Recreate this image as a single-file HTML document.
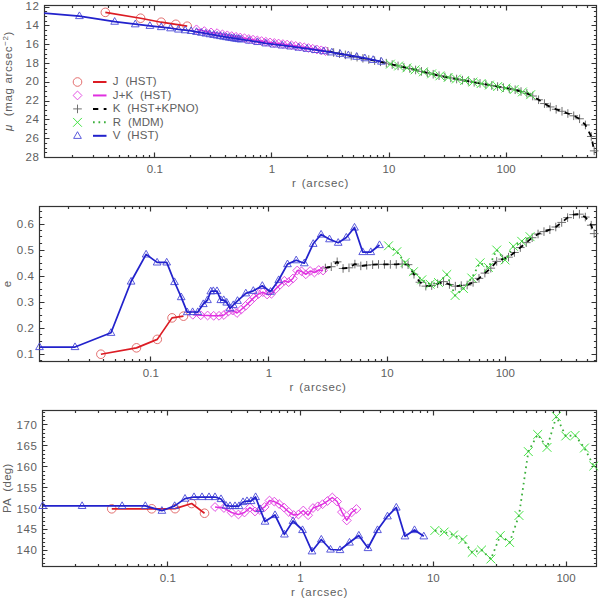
<!DOCTYPE html>
<html><head><meta charset="utf-8"><style>
html,body{margin:0;padding:0;background:#fff;width:600px;height:599px;overflow:hidden}
svg{display:block}
.t{white-space:pre;font-family:"Liberation Sans",sans-serif;font-size:11.5px;fill:#606060}
</style></head><body>
<svg width="600" height="599" viewBox="0 0 600 599">
<rect width="600" height="599" fill="#fff"/>
<rect x="44.5" y="5.5" width="552.00" height="152.00" fill="none" stroke="#333" stroke-width="1.2"/>
<path d="M72.50 157.50v-2.6M72.50 5.50v2.6M93.50 157.50v-2.6M93.50 5.50v2.6M108.50 157.50v-2.6M108.50 5.50v2.6M119.50 157.50v-2.6M119.50 5.50v2.6M128.50 157.50v-2.6M128.50 5.50v2.6M136.50 157.50v-2.6M136.50 5.50v2.6M143.50 157.50v-2.6M143.50 5.50v2.6M149.50 157.50v-2.6M149.50 5.50v2.6M154.50 157.50v-5M154.50 5.50v5M190.50 157.50v-2.6M190.50 5.50v2.6M210.50 157.50v-2.6M210.50 5.50v2.6M225.50 157.50v-2.6M225.50 5.50v2.6M236.50 157.50v-2.6M236.50 5.50v2.6M245.50 157.50v-2.6M245.50 5.50v2.6M253.50 157.50v-2.6M253.50 5.50v2.6M260.50 157.50v-2.6M260.50 5.50v2.6M266.50 157.50v-2.6M266.50 5.50v2.6M271.50 157.50v-5M271.50 5.50v5M307.50 157.50v-2.6M307.50 5.50v2.6M327.50 157.50v-2.6M327.50 5.50v2.6M342.50 157.50v-2.6M342.50 5.50v2.6M353.50 157.50v-2.6M353.50 5.50v2.6M363.50 157.50v-2.6M363.50 5.50v2.6M370.50 157.50v-2.6M370.50 5.50v2.6M377.50 157.50v-2.6M377.50 5.50v2.6M383.50 157.50v-2.6M383.50 5.50v2.6M389.50 157.50v-5M389.50 5.50v5M424.50 157.50v-2.6M424.50 5.50v2.6M444.50 157.50v-2.6M444.50 5.50v2.6M459.50 157.50v-2.6M459.50 5.50v2.6M470.50 157.50v-2.6M470.50 5.50v2.6M480.50 157.50v-2.6M480.50 5.50v2.6M487.50 157.50v-2.6M487.50 5.50v2.6M494.50 157.50v-2.6M494.50 5.50v2.6M500.50 157.50v-2.6M500.50 5.50v2.6M506.50 157.50v-5M506.50 5.50v5M541.50 157.50v-2.6M541.50 5.50v2.6M562.50 157.50v-2.6M562.50 5.50v2.6M576.50 157.50v-2.6M576.50 5.50v2.6M587.50 157.50v-2.6M587.50 5.50v2.6M44.50 7.50h5M596.50 7.50h-5M44.50 25.50h5M596.50 25.50h-5M44.50 44.50h5M596.50 44.50h-5M44.50 63.50h5M596.50 63.50h-5M44.50 82.50h5M596.50 82.50h-5M44.50 101.50h5M596.50 101.50h-5M44.50 119.50h5M596.50 119.50h-5M44.50 138.50h5M596.50 138.50h-5M44.50 157.50h5M596.50 157.50h-5M44.50 7.50h2.6M596.50 7.50h-2.6M44.50 11.50h2.6M596.50 11.50h-2.6M44.50 16.50h2.6M596.50 16.50h-2.6M44.50 21.50h2.6M596.50 21.50h-2.6M44.50 25.50h2.6M596.50 25.50h-2.6M44.50 30.50h2.6M596.50 30.50h-2.6M44.50 35.50h2.6M596.50 35.50h-2.6M44.50 39.50h2.6M596.50 39.50h-2.6M44.50 44.50h2.6M596.50 44.50h-2.6M44.50 49.50h2.6M596.50 49.50h-2.6M44.50 54.50h2.6M596.50 54.50h-2.6M44.50 58.50h2.6M596.50 58.50h-2.6M44.50 63.50h2.6M596.50 63.50h-2.6M44.50 68.50h2.6M596.50 68.50h-2.6M44.50 72.50h2.6M596.50 72.50h-2.6M44.50 77.50h2.6M596.50 77.50h-2.6M44.50 82.50h2.6M596.50 82.50h-2.6M44.50 86.50h2.6M596.50 86.50h-2.6M44.50 91.50h2.6M596.50 91.50h-2.6M44.50 96.50h2.6M596.50 96.50h-2.6M44.50 101.50h2.6M596.50 101.50h-2.6M44.50 105.50h2.6M596.50 105.50h-2.6M44.50 110.50h2.6M596.50 110.50h-2.6M44.50 115.50h2.6M596.50 115.50h-2.6M44.50 119.50h2.6M596.50 119.50h-2.6M44.50 124.50h2.6M596.50 124.50h-2.6M44.50 129.50h2.6M596.50 129.50h-2.6M44.50 133.50h2.6M596.50 133.50h-2.6M44.50 138.50h2.6M596.50 138.50h-2.6M44.50 143.50h2.6M596.50 143.50h-2.6M44.50 148.50h2.6M596.50 148.50h-2.6M44.50 152.50h2.6M596.50 152.50h-2.6M44.50 157.50h2.6M596.50 157.50h-2.6" stroke="#333" stroke-width="1.2" fill="none"/>
<text x="39.60" y="10.30" text-anchor="end" class="t" letter-spacing="0.6">12</text>
<text x="39.60" y="29.09" text-anchor="end" class="t" letter-spacing="0.6">14</text>
<text x="39.60" y="47.88" text-anchor="end" class="t" letter-spacing="0.6">16</text>
<text x="39.60" y="66.66" text-anchor="end" class="t" letter-spacing="0.6">18</text>
<text x="39.60" y="85.45" text-anchor="end" class="t" letter-spacing="0.6">20</text>
<text x="39.60" y="104.24" text-anchor="end" class="t" letter-spacing="0.6">22</text>
<text x="39.60" y="123.03" text-anchor="end" class="t" letter-spacing="0.6">24</text>
<text x="39.60" y="141.82" text-anchor="end" class="t" letter-spacing="0.6">26</text>
<text x="39.60" y="160.60" text-anchor="end" class="t" letter-spacing="0.6">28</text>
<text x="154.81" y="172.50" text-anchor="middle" class="t">0.1</text>
<text x="271.92" y="172.50" text-anchor="middle" class="t">1</text>
<text x="389.02" y="172.50" text-anchor="middle" class="t">10</text>
<text x="506.13" y="172.50" text-anchor="middle" class="t">100</text>
<text x="320.50" y="187.30" text-anchor="middle" class="t" letter-spacing="0.7">r <tspan dx="1.4">(arcsec)</tspan></text>
<rect x="39.5" y="206.5" width="557.00" height="155.00" fill="none" stroke="#333" stroke-width="1.2"/>
<path d="M68.50 361.50v-2.6M68.50 206.50v2.6M89.50 361.50v-2.6M89.50 206.50v2.6M103.50 361.50v-2.6M103.50 206.50v2.6M115.50 361.50v-2.6M115.50 206.50v2.6M124.50 361.50v-2.6M124.50 206.50v2.6M132.50 361.50v-2.6M132.50 206.50v2.6M139.50 361.50v-2.6M139.50 206.50v2.6M145.50 361.50v-2.6M145.50 206.50v2.6M150.50 361.50v-5M150.50 206.50v5M186.50 361.50v-2.6M186.50 206.50v2.6M207.50 361.50v-2.6M207.50 206.50v2.6M221.50 361.50v-2.6M221.50 206.50v2.6M233.50 361.50v-2.6M233.50 206.50v2.6M242.50 361.50v-2.6M242.50 206.50v2.6M250.50 361.50v-2.6M250.50 206.50v2.6M257.50 361.50v-2.6M257.50 206.50v2.6M263.50 361.50v-2.6M263.50 206.50v2.6M268.50 361.50v-5M268.50 206.50v5M304.50 361.50v-2.6M304.50 206.50v2.6M325.50 361.50v-2.6M325.50 206.50v2.6M340.50 361.50v-2.6M340.50 206.50v2.6M351.50 361.50v-2.6M351.50 206.50v2.6M360.50 361.50v-2.6M360.50 206.50v2.6M368.50 361.50v-2.6M368.50 206.50v2.6M375.50 361.50v-2.6M375.50 206.50v2.6M381.50 361.50v-2.6M381.50 206.50v2.6M387.50 361.50v-5M387.50 206.50v5M422.50 361.50v-2.6M422.50 206.50v2.6M443.50 361.50v-2.6M443.50 206.50v2.6M458.50 361.50v-2.6M458.50 206.50v2.6M469.50 361.50v-2.6M469.50 206.50v2.6M479.50 361.50v-2.6M479.50 206.50v2.6M487.50 361.50v-2.6M487.50 206.50v2.6M493.50 361.50v-2.6M493.50 206.50v2.6M499.50 361.50v-2.6M499.50 206.50v2.6M505.50 361.50v-5M505.50 206.50v5M540.50 361.50v-2.6M540.50 206.50v2.6M561.50 361.50v-2.6M561.50 206.50v2.6M576.50 361.50v-2.6M576.50 206.50v2.6M587.50 361.50v-2.6M587.50 206.50v2.6M39.50 354.50h5M596.50 354.50h-5M39.50 328.50h5M596.50 328.50h-5M39.50 302.50h5M596.50 302.50h-5M39.50 276.50h5M596.50 276.50h-5M39.50 250.50h5M596.50 250.50h-5M39.50 224.50h5M596.50 224.50h-5M39.50 360.50h2.6M596.50 360.50h-2.6M39.50 354.50h2.6M596.50 354.50h-2.6M39.50 347.50h2.6M596.50 347.50h-2.6M39.50 341.50h2.6M596.50 341.50h-2.6M39.50 334.50h2.6M596.50 334.50h-2.6M39.50 328.50h2.6M596.50 328.50h-2.6M39.50 321.50h2.6M596.50 321.50h-2.6M39.50 315.50h2.6M596.50 315.50h-2.6M39.50 308.50h2.6M596.50 308.50h-2.6M39.50 302.50h2.6M596.50 302.50h-2.6M39.50 295.50h2.6M596.50 295.50h-2.6M39.50 289.50h2.6M596.50 289.50h-2.6M39.50 282.50h2.6M596.50 282.50h-2.6M39.50 276.50h2.6M596.50 276.50h-2.6M39.50 269.50h2.6M596.50 269.50h-2.6M39.50 263.50h2.6M596.50 263.50h-2.6M39.50 256.50h2.6M596.50 256.50h-2.6M39.50 250.50h2.6M596.50 250.50h-2.6M39.50 243.50h2.6M596.50 243.50h-2.6M39.50 236.50h2.6M596.50 236.50h-2.6M39.50 230.50h2.6M596.50 230.50h-2.6M39.50 224.50h2.6M596.50 224.50h-2.6M39.50 217.50h2.6M596.50 217.50h-2.6M39.50 211.50h2.6M596.50 211.50h-2.6" stroke="#333" stroke-width="1.2" fill="none"/>
<text x="34.60" y="358.20" text-anchor="end" class="t" letter-spacing="0.6">0.1</text>
<text x="34.60" y="332.20" text-anchor="end" class="t" letter-spacing="0.6">0.2</text>
<text x="34.60" y="306.20" text-anchor="end" class="t" letter-spacing="0.6">0.3</text>
<text x="34.60" y="280.20" text-anchor="end" class="t" letter-spacing="0.6">0.4</text>
<text x="34.60" y="254.20" text-anchor="end" class="t" letter-spacing="0.6">0.5</text>
<text x="34.60" y="228.20" text-anchor="end" class="t" letter-spacing="0.6">0.6</text>
<text x="150.81" y="376.50" text-anchor="middle" class="t">0.1</text>
<text x="268.98" y="376.50" text-anchor="middle" class="t">1</text>
<text x="387.15" y="376.50" text-anchor="middle" class="t">10</text>
<text x="505.31" y="376.50" text-anchor="middle" class="t">100</text>
<text x="318.00" y="391.30" text-anchor="middle" class="t" letter-spacing="0.7">r <tspan dx="1.4">(arcsec)</tspan></text>
<rect x="42.5" y="410.5" width="554.00" height="156.00" fill="none" stroke="#333" stroke-width="1.2"/>
<path d="M75.50 566.50v-2.6M75.50 410.50v2.6M98.50 566.50v-2.6M98.50 410.50v2.6M115.50 566.50v-2.6M115.50 410.50v2.6M127.50 566.50v-2.6M127.50 410.50v2.6M138.50 566.50v-2.6M138.50 410.50v2.6M147.50 566.50v-2.6M147.50 410.50v2.6M154.50 566.50v-2.6M154.50 410.50v2.6M161.50 566.50v-2.6M161.50 410.50v2.6M167.50 566.50v-5M167.50 410.50v5M207.50 566.50v-2.6M207.50 410.50v2.6M231.50 566.50v-2.6M231.50 410.50v2.6M247.50 566.50v-2.6M247.50 410.50v2.6M260.50 566.50v-2.6M260.50 410.50v2.6M271.50 566.50v-2.6M271.50 410.50v2.6M279.50 566.50v-2.6M279.50 410.50v2.6M287.50 566.50v-2.6M287.50 410.50v2.6M294.50 566.50v-2.6M294.50 410.50v2.6M300.50 566.50v-5M300.50 410.50v5M340.50 566.50v-2.6M340.50 410.50v2.6M363.50 566.50v-2.6M363.50 410.50v2.6M380.50 566.50v-2.6M380.50 410.50v2.6M393.50 566.50v-2.6M393.50 410.50v2.6M403.50 566.50v-2.6M403.50 410.50v2.6M412.50 566.50v-2.6M412.50 410.50v2.6M420.50 566.50v-2.6M420.50 410.50v2.6M427.50 566.50v-2.6M427.50 410.50v2.6M433.50 566.50v-5M433.50 410.50v5M473.50 566.50v-2.6M473.50 410.50v2.6M496.50 566.50v-2.6M496.50 410.50v2.6M513.50 566.50v-2.6M513.50 410.50v2.6M526.50 566.50v-2.6M526.50 410.50v2.6M536.50 566.50v-2.6M536.50 410.50v2.6M545.50 566.50v-2.6M545.50 410.50v2.6M553.50 566.50v-2.6M553.50 410.50v2.6M559.50 566.50v-2.6M559.50 410.50v2.6M566.50 566.50v-5M566.50 410.50v5M42.50 550.50h5M596.50 550.50h-5M42.50 529.50h5M596.50 529.50h-5M42.50 508.50h5M596.50 508.50h-5M42.50 487.50h5M596.50 487.50h-5M42.50 466.50h5M596.50 466.50h-5M42.50 445.50h5M596.50 445.50h-5M42.50 424.50h5M596.50 424.50h-5M42.50 563.50h2.6M596.50 563.50h-2.6M42.50 558.50h2.6M596.50 558.50h-2.6M42.50 554.50h2.6M596.50 554.50h-2.6M42.50 550.50h2.6M596.50 550.50h-2.6M42.50 546.50h2.6M596.50 546.50h-2.6M42.50 542.50h2.6M596.50 542.50h-2.6M42.50 538.50h2.6M596.50 538.50h-2.6M42.50 533.50h2.6M596.50 533.50h-2.6M42.50 529.50h2.6M596.50 529.50h-2.6M42.50 525.50h2.6M596.50 525.50h-2.6M42.50 521.50h2.6M596.50 521.50h-2.6M42.50 517.50h2.6M596.50 517.50h-2.6M42.50 512.50h2.6M596.50 512.50h-2.6M42.50 508.50h2.6M596.50 508.50h-2.6M42.50 504.50h2.6M596.50 504.50h-2.6M42.50 500.50h2.6M596.50 500.50h-2.6M42.50 496.50h2.6M596.50 496.50h-2.6M42.50 491.50h2.6M596.50 491.50h-2.6M42.50 487.50h2.6M596.50 487.50h-2.6M42.50 483.50h2.6M596.50 483.50h-2.6M42.50 479.50h2.6M596.50 479.50h-2.6M42.50 475.50h2.6M596.50 475.50h-2.6M42.50 471.50h2.6M596.50 471.50h-2.6M42.50 466.50h2.6M596.50 466.50h-2.6M42.50 462.50h2.6M596.50 462.50h-2.6M42.50 458.50h2.6M596.50 458.50h-2.6M42.50 454.50h2.6M596.50 454.50h-2.6M42.50 450.50h2.6M596.50 450.50h-2.6M42.50 445.50h2.6M596.50 445.50h-2.6M42.50 441.50h2.6M596.50 441.50h-2.6M42.50 437.50h2.6M596.50 437.50h-2.6M42.50 433.50h2.6M596.50 433.50h-2.6M42.50 429.50h2.6M596.50 429.50h-2.6M42.50 424.50h2.6M596.50 424.50h-2.6M42.50 420.50h2.6M596.50 420.50h-2.6M42.50 416.50h2.6M596.50 416.50h-2.6M42.50 412.50h2.6M596.50 412.50h-2.6" stroke="#333" stroke-width="1.2" fill="none"/>
<text x="37.60" y="554.40" text-anchor="end" class="t" letter-spacing="0.6">140</text>
<text x="37.60" y="533.47" text-anchor="end" class="t" letter-spacing="0.6">145</text>
<text x="37.60" y="512.53" text-anchor="end" class="t" letter-spacing="0.6">150</text>
<text x="37.60" y="491.60" text-anchor="end" class="t" letter-spacing="0.6">155</text>
<text x="37.60" y="470.66" text-anchor="end" class="t" letter-spacing="0.6">160</text>
<text x="37.60" y="449.73" text-anchor="end" class="t" letter-spacing="0.6">165</text>
<text x="37.60" y="428.79" text-anchor="end" class="t" letter-spacing="0.6">170</text>
<text x="167.83" y="581.50" text-anchor="middle" class="t">0.1</text>
<text x="300.55" y="581.50" text-anchor="middle" class="t">1</text>
<text x="433.28" y="581.50" text-anchor="middle" class="t">10</text>
<text x="566.01" y="581.50" text-anchor="middle" class="t">100</text>
<text x="319.50" y="596.30" text-anchor="middle" class="t" letter-spacing="0.7">r <tspan dx="1.4">(arcsec)</tspan></text>
<text transform="translate(12.2,80.9) rotate(-90)" text-anchor="middle" class="t" letter-spacing="0.65"><tspan font-style="italic">μ</tspan>  (mag arcsec<tspan dy="-4" font-size="8">−2</tspan><tspan dy="4">)</tspan></text>
<text transform="translate(10.8,284.1) rotate(-90)" text-anchor="middle" class="t">e</text>
<text transform="translate(11.2,488.2) rotate(-90)" text-anchor="middle" class="t" letter-spacing="0.3">PA  (deg)</text>
<g><path d="M323.49 51.36h8.6M327.79 47.06v8.6" stroke="#686868" stroke-width="0.95"/><path d="M329.35 52.53h8.6M333.65 48.23v8.6" stroke="#686868" stroke-width="0.95"/><path d="M335.20 53.70h8.6M339.50 49.40v8.6" stroke="#686868" stroke-width="0.95"/><path d="M341.06 54.87h8.6M345.36 50.57v8.6" stroke="#686868" stroke-width="0.95"/><path d="M346.91 56.04h8.6M351.21 51.74v8.6" stroke="#686868" stroke-width="0.95"/><path d="M352.77 57.19h8.6M357.07 52.89v8.6" stroke="#686868" stroke-width="0.95"/><path d="M358.62 58.34h8.6M362.92 54.04v8.6" stroke="#686868" stroke-width="0.95"/><path d="M364.48 59.48h8.6M368.78 55.18v8.6" stroke="#686868" stroke-width="0.95"/><path d="M370.33 60.63h8.6M374.63 56.33v8.6" stroke="#686868" stroke-width="0.95"/><path d="M376.19 61.78h8.6M380.49 57.48v8.6" stroke="#686868" stroke-width="0.95"/><path d="M382.04 63.16h8.6M386.34 58.86v8.6" stroke="#686868" stroke-width="0.95"/><path d="M387.90 64.57h8.6M392.20 60.27v8.6" stroke="#686868" stroke-width="0.95"/><path d="M393.75 65.90h8.6M398.05 61.60v8.6" stroke="#686868" stroke-width="0.95"/><path d="M399.61 67.22h8.6M403.91 62.92v8.6" stroke="#686868" stroke-width="0.95"/><path d="M405.47 68.55h8.6M409.77 64.25v8.6" stroke="#686868" stroke-width="0.95"/><path d="M411.32 69.97h8.6M415.62 65.67v8.6" stroke="#686868" stroke-width="0.95"/><path d="M417.18 71.39h8.6M421.48 67.09v8.6" stroke="#686868" stroke-width="0.95"/><path d="M423.03 72.82h8.6M427.33 68.52v8.6" stroke="#686868" stroke-width="0.95"/><path d="M428.89 74.24h8.6M433.19 69.94v8.6" stroke="#686868" stroke-width="0.95"/><path d="M434.74 75.67h8.6M439.04 71.37v8.6" stroke="#686868" stroke-width="0.95"/><path d="M440.60 76.82h8.6M444.90 72.52v8.6" stroke="#686868" stroke-width="0.95"/><path d="M446.45 77.92h8.6M450.75 73.62v8.6" stroke="#686868" stroke-width="0.95"/><path d="M452.31 79.02h8.6M456.61 74.72v8.6" stroke="#686868" stroke-width="0.95"/><path d="M458.16 80.12h8.6M462.46 75.82v8.6" stroke="#686868" stroke-width="0.95"/><path d="M464.02 81.21h8.6M468.32 76.91v8.6" stroke="#686868" stroke-width="0.95"/><path d="M469.87 82.29h8.6M474.17 77.99v8.6" stroke="#686868" stroke-width="0.95"/><path d="M475.73 83.37h8.6M480.03 79.07v8.6" stroke="#686868" stroke-width="0.95"/><path d="M481.58 84.44h8.6M485.88 80.14v8.6" stroke="#686868" stroke-width="0.95"/><path d="M487.44 85.51h8.6M491.74 81.21v8.6" stroke="#686868" stroke-width="0.95"/><path d="M493.29 86.57h8.6M497.59 82.27v8.6" stroke="#686868" stroke-width="0.95"/><path d="M499.15 87.62h8.6M503.45 83.32v8.6" stroke="#686868" stroke-width="0.95"/><path d="M505.00 88.67h8.6M509.30 84.37v8.6" stroke="#686868" stroke-width="0.95"/><path d="M510.86 89.75h8.6M515.16 85.45v8.6" stroke="#686868" stroke-width="0.95"/><path d="M516.72 91.54h8.6M521.02 87.24v8.6" stroke="#686868" stroke-width="0.95"/><path d="M522.57 93.34h8.6M526.87 89.04v8.6" stroke="#686868" stroke-width="0.95"/><path d="M528.43 96.03h8.6M532.73 91.73v8.6" stroke="#686868" stroke-width="0.95"/><path d="M534.28 99.75h8.6M538.58 95.45v8.6" stroke="#686868" stroke-width="0.95"/><path d="M540.14 103.56h8.6M544.44 99.26v8.6" stroke="#686868" stroke-width="0.95"/><path d="M545.99 106.94h8.6M550.29 102.64v8.6" stroke="#686868" stroke-width="0.95"/><path d="M551.85 109.28h8.6M556.15 104.98v8.6" stroke="#686868" stroke-width="0.95"/><path d="M557.70 111.27h8.6M562.00 106.97v8.6" stroke="#686868" stroke-width="0.95"/><path d="M563.56 113.51h8.6M567.86 109.21v8.6" stroke="#686868" stroke-width="0.95"/><path d="M569.41 115.79h8.6M573.71 111.49v8.6" stroke="#686868" stroke-width="0.95"/><path d="M575.27 118.77h8.6M579.57 114.47v8.6" stroke="#686868" stroke-width="0.95"/><path d="M581.12 124.95h8.6M585.42 120.65v8.6" stroke="#686868" stroke-width="0.95"/><path d="M586.98 136.47h8.6M591.28 132.17v8.6" stroke="#686868" stroke-width="0.95"/><path d="M589.89 150.86h8.6M594.19 146.56v8.6" stroke="#686868" stroke-width="0.95"/></g>
<path d="M327.79 51.36L333.65 52.53L339.50 53.70L345.36 54.87L351.21 56.04L357.07 57.19L362.92 58.34L368.78 59.48L374.63 60.63L380.49 61.78L386.34 63.16L392.20 64.57L398.05 65.90L403.91 67.22L409.77 68.55L415.62 69.97L421.48 71.39L427.33 72.82L433.19 74.24L439.04 75.67L444.90 76.82L450.75 77.92L456.61 79.02L462.46 80.12L468.32 81.21L474.17 82.29L480.03 83.37L485.88 84.44L491.74 85.51L497.59 86.57L503.45 87.62L509.30 88.67L515.16 89.75L521.02 91.54L526.87 93.34L532.73 96.03L538.58 99.75L544.44 103.56L550.29 106.94L556.15 109.28L562.00 111.27L567.86 113.51L573.71 115.79L579.57 118.77L585.42 124.95L591.28 136.47L594.19 150.86" fill="none" stroke="#000" stroke-width="1.8" stroke-linejoin="round" stroke-dasharray="5.3 5.4"/>
<g><path d="M385.97 59.76l8.8 8.8M385.97 68.56l8.8 -8.8" stroke="#44e444" stroke-width="1.0"/><path d="M394.22 61.62l8.8 8.8M394.22 70.42l8.8 -8.8" stroke="#44e444" stroke-width="1.0"/><path d="M402.47 63.49l8.8 8.8M402.47 72.29l8.8 -8.8" stroke="#44e444" stroke-width="1.0"/><path d="M410.72 65.45l8.8 8.8M410.72 74.25l8.8 -8.8" stroke="#44e444" stroke-width="1.0"/><path d="M418.98 67.45l8.8 8.8M418.98 76.25l8.8 -8.8" stroke="#44e444" stroke-width="1.0"/><path d="M427.23 69.46l8.8 8.8M427.23 78.26l8.8 -8.8" stroke="#44e444" stroke-width="1.0"/><path d="M435.48 71.47l8.8 8.8M435.48 80.27l8.8 -8.8" stroke="#44e444" stroke-width="1.0"/><path d="M443.73 73.03l8.8 8.8M443.73 81.83l8.8 -8.8" stroke="#44e444" stroke-width="1.0"/><path d="M451.98 74.58l8.8 8.8M451.98 83.38l8.8 -8.8" stroke="#44e444" stroke-width="1.0"/><path d="M460.23 76.13l8.8 8.8M460.23 84.93l8.8 -8.8" stroke="#44e444" stroke-width="1.0"/><path d="M468.48 77.65l8.8 8.8M468.48 86.45l8.8 -8.8" stroke="#44e444" stroke-width="1.0"/><path d="M476.73 79.17l8.8 8.8M476.73 87.97l8.8 -8.8" stroke="#44e444" stroke-width="1.0"/><path d="M484.99 80.69l8.8 8.8M484.99 89.49l8.8 -8.8" stroke="#44e444" stroke-width="1.0"/><path d="M493.24 82.17l8.8 8.8M493.24 90.97l8.8 -8.8" stroke="#44e444" stroke-width="1.0"/><path d="M501.49 83.66l8.8 8.8M501.49 92.46l8.8 -8.8" stroke="#44e444" stroke-width="1.0"/><path d="M509.74 85.15l8.8 8.8M509.74 93.95l8.8 -8.8" stroke="#44e444" stroke-width="1.0"/><path d="M517.99 87.57l8.8 8.8M517.99 96.37l8.8 -8.8" stroke="#44e444" stroke-width="1.0"/><path d="M526.24 90.31l8.8 8.8M526.24 99.11l8.8 -8.8" stroke="#44e444" stroke-width="1.0"/></g>
<path d="M390.37 64.16L398.62 66.02L406.87 67.89L415.12 69.85L423.38 71.85L431.63 73.86L439.88 75.87L448.13 77.43L456.38 78.98L464.63 80.53L472.88 82.05L481.13 83.57L489.39 85.09L497.64 86.57L505.89 88.06L514.14 89.55L522.39 91.97L530.64 94.71" fill="none" stroke="#3cb03c" stroke-width="1.8" stroke-linejoin="round" stroke-dasharray="1.7 3.8"/>
<g><path d="M192.06 29.35L196.46 24.95L200.86 29.35L196.46 33.75Z" fill="none" stroke="#e040e0" stroke-width="0.9"/><path d="M199.90 31.10L204.30 26.70L208.70 31.10L204.30 35.50Z" fill="none" stroke="#e040e0" stroke-width="0.9"/><path d="M206.69 32.41L211.09 28.01L215.49 32.41L211.09 36.81Z" fill="none" stroke="#e040e0" stroke-width="0.9"/><path d="M212.68 33.12L217.08 28.72L221.48 33.12L217.08 37.52Z" fill="none" stroke="#e040e0" stroke-width="0.9"/><path d="M218.04 34.34L222.44 29.94L226.84 34.34L222.44 38.74Z" fill="none" stroke="#e040e0" stroke-width="0.9"/><path d="M222.89 35.32L227.29 30.92L231.69 35.32L227.29 39.72Z" fill="none" stroke="#e040e0" stroke-width="0.9"/><path d="M227.31 36.08L231.71 31.68L236.11 36.08L231.71 40.48Z" fill="none" stroke="#e040e0" stroke-width="0.9"/><path d="M231.58 36.81L235.98 32.41L240.38 36.81L235.98 41.21Z" fill="none" stroke="#e040e0" stroke-width="0.9"/><path d="M235.84 37.54L240.24 33.14L244.64 37.54L240.24 41.94Z" fill="none" stroke="#e040e0" stroke-width="0.9"/><path d="M240.10 38.26L244.50 33.86L248.90 38.26L244.50 42.66Z" fill="none" stroke="#e040e0" stroke-width="0.9"/><path d="M244.36 38.99L248.76 34.59L253.16 38.99L248.76 43.39Z" fill="none" stroke="#e040e0" stroke-width="0.9"/><path d="M248.63 39.68L253.03 35.28L257.43 39.68L253.03 44.08Z" fill="none" stroke="#e040e0" stroke-width="0.9"/><path d="M252.89 40.37L257.29 35.97L261.69 40.37L257.29 44.77Z" fill="none" stroke="#e040e0" stroke-width="0.9"/><path d="M257.15 41.05L261.55 36.65L265.95 41.05L261.55 45.45Z" fill="none" stroke="#e040e0" stroke-width="0.9"/><path d="M261.41 41.73L265.81 37.33L270.21 41.73L265.81 46.13Z" fill="none" stroke="#e040e0" stroke-width="0.9"/><path d="M265.68 42.41L270.08 38.01L274.48 42.41L270.08 46.81Z" fill="none" stroke="#e040e0" stroke-width="0.9"/><path d="M269.94 42.96L274.34 38.56L278.74 42.96L274.34 47.36Z" fill="none" stroke="#e040e0" stroke-width="0.9"/><path d="M274.20 43.52L278.60 39.12L283.00 43.52L278.60 47.92Z" fill="none" stroke="#e040e0" stroke-width="0.9"/><path d="M278.46 44.07L282.86 39.67L287.26 44.07L282.86 48.47Z" fill="none" stroke="#e040e0" stroke-width="0.9"/><path d="M282.73 44.63L287.13 40.23L291.53 44.63L287.13 49.03Z" fill="none" stroke="#e040e0" stroke-width="0.9"/><path d="M286.99 45.23L291.39 40.83L295.79 45.23L291.39 49.63Z" fill="none" stroke="#e040e0" stroke-width="0.9"/><path d="M291.25 45.93L295.65 41.53L300.05 45.93L295.65 50.33Z" fill="none" stroke="#e040e0" stroke-width="0.9"/><path d="M295.52 46.64L299.92 42.24L304.32 46.64L299.92 51.04Z" fill="none" stroke="#e040e0" stroke-width="0.9"/><path d="M299.78 47.34L304.18 42.94L308.58 47.34L304.18 51.74Z" fill="none" stroke="#e040e0" stroke-width="0.9"/><path d="M304.04 48.04L308.44 43.64L312.84 48.04L308.44 52.44Z" fill="none" stroke="#e040e0" stroke-width="0.9"/><path d="M308.30 48.79L312.70 44.39L317.10 48.79L312.70 53.19Z" fill="none" stroke="#e040e0" stroke-width="0.9"/><path d="M312.57 49.55L316.97 45.15L321.37 49.55L316.97 53.95Z" fill="none" stroke="#e040e0" stroke-width="0.9"/><path d="M316.83 50.32L321.23 45.92L325.63 50.32L321.23 54.72Z" fill="none" stroke="#e040e0" stroke-width="0.9"/><path d="M321.09 51.09L325.49 46.69L329.89 51.09L325.49 55.49Z" fill="none" stroke="#e040e0" stroke-width="0.9"/></g>
<path d="M196.46 29.35L204.30 31.10L211.09 32.41L217.08 33.12L222.44 34.34L227.29 35.32L231.71 36.08L235.98 36.81L240.24 37.54L244.50 38.26L248.76 38.99L253.03 39.68L257.29 40.37L261.55 41.05L265.81 41.73L270.08 42.41L274.34 42.96L278.60 43.52L282.86 44.07L287.13 44.63L291.39 45.23L295.65 45.93L299.92 46.64L304.18 47.34L308.44 48.04L312.70 48.79L316.97 49.55L321.23 50.32L325.49 51.09" fill="none" stroke="#e030e0" stroke-width="1.5" stroke-linejoin="round" />
<g><circle cx="105.34" cy="12.36" r="4.3" fill="none" stroke="#e06060" stroke-width="0.9"/><circle cx="140.59" cy="18.23" r="4.3" fill="none" stroke="#e06060" stroke-width="0.9"/><circle cx="161.21" cy="22.21" r="4.3" fill="none" stroke="#e06060" stroke-width="0.9"/><circle cx="175.84" cy="24.29" r="4.3" fill="none" stroke="#e06060" stroke-width="0.9"/><circle cx="187.19" cy="26.20" r="4.3" fill="none" stroke="#e06060" stroke-width="0.9"/></g>
<path d="M105.34 12.36L140.59 18.23L161.21 22.21L175.84 24.29L187.19 26.20" fill="none" stroke="#dc1c24" stroke-width="1.7" stroke-linejoin="round" />
<g><path d="M75.55 18.62L79.40 11.92L83.25 18.62Z" fill="none" stroke="#4848d8" stroke-width="0.9" stroke-linejoin="miter"/><path d="M110.80 24.26L114.65 17.56L118.50 24.26Z" fill="none" stroke="#4848d8" stroke-width="0.9" stroke-linejoin="miter"/><path d="M131.42 26.83L135.27 20.13L139.12 26.83Z" fill="none" stroke="#4848d8" stroke-width="0.9" stroke-linejoin="miter"/><path d="M146.05 28.39L149.90 21.69L153.75 28.39Z" fill="none" stroke="#4848d8" stroke-width="0.9" stroke-linejoin="miter"/><path d="M157.40 29.65L161.25 22.95L165.10 29.65Z" fill="none" stroke="#4848d8" stroke-width="0.9" stroke-linejoin="miter"/><path d="M166.68 30.84L170.53 24.14L174.38 30.84Z" fill="none" stroke="#4848d8" stroke-width="0.9" stroke-linejoin="miter"/><path d="M174.52 32.07L178.37 25.37L182.22 32.07Z" fill="none" stroke="#4848d8" stroke-width="0.9" stroke-linejoin="miter"/><path d="M181.31 32.79L185.16 26.09L189.01 32.79Z" fill="none" stroke="#4848d8" stroke-width="0.9" stroke-linejoin="miter"/><path d="M187.30 33.50L191.15 26.80L195.00 33.50Z" fill="none" stroke="#4848d8" stroke-width="0.9" stroke-linejoin="miter"/><path d="M192.66 34.44L196.51 27.74L200.36 34.44Z" fill="none" stroke="#4848d8" stroke-width="0.9" stroke-linejoin="miter"/><path d="M197.50 35.29L201.35 28.59L205.20 35.29Z" fill="none" stroke="#4848d8" stroke-width="0.9" stroke-linejoin="miter"/><path d="M201.93 36.06L205.78 29.36L209.63 36.06Z" fill="none" stroke="#4848d8" stroke-width="0.9" stroke-linejoin="miter"/><path d="M206.00 36.77L209.85 30.07L213.70 36.77Z" fill="none" stroke="#4848d8" stroke-width="0.9" stroke-linejoin="miter"/><path d="M209.77 37.43L213.62 30.73L217.47 37.43Z" fill="none" stroke="#4848d8" stroke-width="0.9" stroke-linejoin="miter"/><path d="M213.28 38.05L217.13 31.35L220.98 38.05Z" fill="none" stroke="#4848d8" stroke-width="0.9" stroke-linejoin="miter"/><path d="M216.56 38.62L220.41 31.92L224.26 38.62Z" fill="none" stroke="#4848d8" stroke-width="0.9" stroke-linejoin="miter"/><path d="M219.64 39.16L223.49 32.46L227.34 39.16Z" fill="none" stroke="#4848d8" stroke-width="0.9" stroke-linejoin="miter"/><path d="M222.55 39.67L226.40 32.97L230.25 39.67Z" fill="none" stroke="#4848d8" stroke-width="0.9" stroke-linejoin="miter"/><path d="M225.30 40.15L229.15 33.45L233.00 40.15Z" fill="none" stroke="#4848d8" stroke-width="0.9" stroke-linejoin="miter"/><path d="M227.91 40.56L231.76 33.86L235.61 40.56Z" fill="none" stroke="#4848d8" stroke-width="0.9" stroke-linejoin="miter"/><path d="M230.39 40.94L234.24 34.24L238.09 40.94Z" fill="none" stroke="#4848d8" stroke-width="0.9" stroke-linejoin="miter"/><path d="M232.76 41.29L236.61 34.59L240.46 41.29Z" fill="none" stroke="#4848d8" stroke-width="0.9" stroke-linejoin="miter"/><path d="M235.02 41.63L238.87 34.93L242.72 41.63Z" fill="none" stroke="#4848d8" stroke-width="0.9" stroke-linejoin="miter"/><path d="M237.18 41.95L241.03 35.25L244.88 41.95Z" fill="none" stroke="#4848d8" stroke-width="0.9" stroke-linejoin="miter"/><path d="M245.44 43.19L249.29 36.49L253.14 43.19Z" fill="none" stroke="#4848d8" stroke-width="0.9" stroke-linejoin="miter"/><path d="M253.69 44.54L257.54 37.84L261.39 44.54Z" fill="none" stroke="#4848d8" stroke-width="0.9" stroke-linejoin="miter"/><path d="M261.95 45.91L265.80 39.21L269.65 45.91Z" fill="none" stroke="#4848d8" stroke-width="0.9" stroke-linejoin="miter"/><path d="M270.20 47.07L274.05 40.37L277.90 47.07Z" fill="none" stroke="#4848d8" stroke-width="0.9" stroke-linejoin="miter"/><path d="M278.46 48.02L282.31 41.32L286.16 48.02Z" fill="none" stroke="#4848d8" stroke-width="0.9" stroke-linejoin="miter"/><path d="M286.72 48.98L290.57 42.28L294.42 48.98Z" fill="none" stroke="#4848d8" stroke-width="0.9" stroke-linejoin="miter"/><path d="M294.97 50.16L298.82 43.46L302.67 50.16Z" fill="none" stroke="#4848d8" stroke-width="0.9" stroke-linejoin="miter"/><path d="M303.23 51.33L307.08 44.63L310.93 51.33Z" fill="none" stroke="#4848d8" stroke-width="0.9" stroke-linejoin="miter"/><path d="M311.48 52.51L315.33 45.81L319.18 52.51Z" fill="none" stroke="#4848d8" stroke-width="0.9" stroke-linejoin="miter"/><path d="M319.74 53.69L323.59 46.99L327.44 53.69Z" fill="none" stroke="#4848d8" stroke-width="0.9" stroke-linejoin="miter"/><path d="M328.00 54.92L331.85 48.22L335.70 54.92Z" fill="none" stroke="#4848d8" stroke-width="0.9" stroke-linejoin="miter"/><path d="M336.25 56.37L340.10 49.67L343.95 56.37Z" fill="none" stroke="#4848d8" stroke-width="0.9" stroke-linejoin="miter"/><path d="M344.51 57.81L348.36 51.11L352.21 57.81Z" fill="none" stroke="#4848d8" stroke-width="0.9" stroke-linejoin="miter"/><path d="M352.76 59.29L356.61 52.59L360.46 59.29Z" fill="none" stroke="#4848d8" stroke-width="0.9" stroke-linejoin="miter"/><path d="M361.02 60.78L364.87 54.08L368.72 60.78Z" fill="none" stroke="#4848d8" stroke-width="0.9" stroke-linejoin="miter"/><path d="M369.28 62.46L373.13 55.76L376.98 62.46Z" fill="none" stroke="#4848d8" stroke-width="0.9" stroke-linejoin="miter"/><path d="M377.53 64.16L381.38 57.46L385.23 64.16Z" fill="none" stroke="#4848d8" stroke-width="0.9" stroke-linejoin="miter"/></g>
<path d="M44.15 13.07L79.40 16.02L114.65 21.66L135.27 24.23L149.90 25.79L161.25 27.05L170.53 28.24L178.37 29.47L185.16 30.19L191.15 30.90L196.51 31.84L201.35 32.69L205.78 33.46L209.85 34.17L213.62 34.83L217.13 35.45L220.41 36.02L223.49 36.56L226.40 37.07L229.15 37.55L231.76 37.96L234.24 38.34L236.61 38.69L238.87 39.03L241.03 39.35L249.29 40.59L257.54 41.94L265.80 43.31L274.05 44.47L282.31 45.42L290.57 46.38L298.82 47.56L307.08 48.73L315.33 49.91L323.59 51.09L331.85 52.32L340.10 53.77L348.36 55.21L356.61 56.69L364.87 58.18L373.13 59.86L381.38 61.56" fill="none" stroke="#2222cc" stroke-width="1.75" stroke-linejoin="round" />
<g><path d="M321.06 267.99h8.6M325.36 263.69v8.6" stroke="#686868" stroke-width="0.95"/><path d="M326.97 266.71h8.6M331.27 262.41v8.6" stroke="#686868" stroke-width="0.95"/><path d="M332.88 261.83h8.6M337.18 257.53v8.6" stroke="#686868" stroke-width="0.95"/><path d="M338.78 268.46h8.6M343.08 264.16v8.6" stroke="#686868" stroke-width="0.95"/><path d="M344.69 267.81h8.6M348.99 263.51v8.6" stroke="#686868" stroke-width="0.95"/><path d="M350.60 264.08h8.6M354.90 259.78v8.6" stroke="#686868" stroke-width="0.95"/><path d="M356.51 265.91h8.6M360.81 261.61v8.6" stroke="#686868" stroke-width="0.95"/><path d="M362.42 265.24h8.6M366.72 260.94v8.6" stroke="#686868" stroke-width="0.95"/><path d="M368.33 264.71h8.6M372.63 260.41v8.6" stroke="#686868" stroke-width="0.95"/><path d="M374.23 264.40h8.6M378.53 260.10v8.6" stroke="#686868" stroke-width="0.95"/><path d="M380.14 264.40h8.6M384.44 260.10v8.6" stroke="#686868" stroke-width="0.95"/><path d="M386.05 264.40h8.6M390.35 260.10v8.6" stroke="#686868" stroke-width="0.95"/><path d="M391.96 264.40h8.6M396.26 260.10v8.6" stroke="#686868" stroke-width="0.95"/><path d="M397.87 264.03h8.6M402.17 259.73v8.6" stroke="#686868" stroke-width="0.95"/><path d="M403.78 264.65h8.6M408.08 260.35v8.6" stroke="#686868" stroke-width="0.95"/><path d="M409.68 274.27h8.6M413.98 269.97v8.6" stroke="#686868" stroke-width="0.95"/><path d="M415.59 282.21h8.6M419.89 277.91v8.6" stroke="#686868" stroke-width="0.95"/><path d="M421.50 286.15h8.6M425.80 281.85v8.6" stroke="#686868" stroke-width="0.95"/><path d="M427.41 285.60h8.6M431.71 281.30v8.6" stroke="#686868" stroke-width="0.95"/><path d="M433.32 283.75h8.6M437.62 279.45v8.6" stroke="#686868" stroke-width="0.95"/><path d="M439.23 281.61h8.6M443.53 277.31v8.6" stroke="#686868" stroke-width="0.95"/><path d="M445.13 284.47h8.6M449.43 280.17v8.6" stroke="#686868" stroke-width="0.95"/><path d="M451.04 286.17h8.6M455.34 281.87v8.6" stroke="#686868" stroke-width="0.95"/><path d="M456.95 285.61h8.6M461.25 281.31v8.6" stroke="#686868" stroke-width="0.95"/><path d="M462.86 285.01h8.6M467.16 280.71v8.6" stroke="#686868" stroke-width="0.95"/><path d="M468.77 282.39h8.6M473.07 278.09v8.6" stroke="#686868" stroke-width="0.95"/><path d="M474.68 278.37h8.6M478.98 274.07v8.6" stroke="#686868" stroke-width="0.95"/><path d="M480.58 273.11h8.6M484.88 268.81v8.6" stroke="#686868" stroke-width="0.95"/><path d="M486.49 268.17h8.6M490.79 263.87v8.6" stroke="#686868" stroke-width="0.95"/><path d="M492.40 261.35h8.6M496.70 257.05v8.6" stroke="#686868" stroke-width="0.95"/><path d="M498.31 259.13h8.6M502.61 254.83v8.6" stroke="#686868" stroke-width="0.95"/><path d="M504.22 257.16h8.6M508.52 252.86v8.6" stroke="#686868" stroke-width="0.95"/><path d="M510.13 252.48h8.6M514.43 248.18v8.6" stroke="#686868" stroke-width="0.95"/><path d="M516.03 247.56h8.6M520.33 243.26v8.6" stroke="#686868" stroke-width="0.95"/><path d="M521.94 242.63h8.6M526.24 238.33v8.6" stroke="#686868" stroke-width="0.95"/><path d="M527.85 237.71h8.6M532.15 233.41v8.6" stroke="#686868" stroke-width="0.95"/><path d="M533.76 233.98h8.6M538.06 229.68v8.6" stroke="#686868" stroke-width="0.95"/><path d="M539.67 231.61h8.6M543.97 227.31v8.6" stroke="#686868" stroke-width="0.95"/><path d="M545.57 229.64h8.6M549.87 225.34v8.6" stroke="#686868" stroke-width="0.95"/><path d="M551.48 227.00h8.6M555.78 222.70v8.6" stroke="#686868" stroke-width="0.95"/><path d="M557.39 222.42h8.6M561.69 218.12v8.6" stroke="#686868" stroke-width="0.95"/><path d="M563.30 217.64h8.6M567.60 213.34v8.6" stroke="#686868" stroke-width="0.95"/><path d="M569.21 214.65h8.6M573.51 210.35v8.6" stroke="#686868" stroke-width="0.95"/><path d="M575.12 214.17h8.6M579.42 209.87v8.6" stroke="#686868" stroke-width="0.95"/><path d="M581.02 217.07h8.6M585.32 212.77v8.6" stroke="#686868" stroke-width="0.95"/><path d="M586.93 225.22h8.6M591.23 220.92v8.6" stroke="#686868" stroke-width="0.95"/><path d="M589.87 233.62h8.6M594.17 229.32v8.6" stroke="#686868" stroke-width="0.95"/></g>
<path d="M325.36 267.99L331.27 266.71L337.18 261.83L343.08 268.46L348.99 267.81L354.90 264.08L360.81 265.91L366.72 265.24L372.63 264.71L378.53 264.40L384.44 264.40L390.35 264.40L396.26 264.40L402.17 264.03L408.08 264.65L413.98 274.27L419.89 282.21L425.80 286.15L431.71 285.60L437.62 283.75L443.53 281.61L449.43 284.47L455.34 286.17L461.25 285.61L467.16 285.01L473.07 282.39L478.98 278.37L484.88 273.11L490.79 268.17L496.70 261.35L502.61 259.13L508.52 257.16L514.43 252.48L520.33 247.56L526.24 242.63L532.15 237.71L538.06 233.98L543.97 231.61L549.87 229.64L555.78 227.00L561.69 222.42L567.60 217.64L573.51 214.65L579.42 214.17L585.32 217.07L591.23 225.22L594.17 233.62" fill="none" stroke="#000" stroke-width="1.8" stroke-linejoin="round" stroke-dasharray="5.3 5.4"/>
<g><path d="M384.10 241.40l8.8 8.8M384.10 250.20l8.8 -8.8" stroke="#44e444" stroke-width="1.0"/><path d="M392.43 247.30l8.8 8.8M392.43 256.10l8.8 -8.8" stroke="#44e444" stroke-width="1.0"/><path d="M400.76 258.10l8.8 8.8M400.76 266.90l8.8 -8.8" stroke="#44e444" stroke-width="1.0"/><path d="M409.08 267.30l8.8 8.8M409.08 276.10l8.8 -8.8" stroke="#44e444" stroke-width="1.0"/><path d="M417.41 275.40l8.8 8.8M417.41 284.20l8.8 -8.8" stroke="#44e444" stroke-width="1.0"/><path d="M425.73 279.80l8.8 8.8M425.73 288.60l8.8 -8.8" stroke="#44e444" stroke-width="1.0"/><path d="M434.06 278.10l8.8 8.8M434.06 286.90l8.8 -8.8" stroke="#44e444" stroke-width="1.0"/><path d="M442.39 270.10l8.8 8.8M442.39 278.90l8.8 -8.8" stroke="#44e444" stroke-width="1.0"/><path d="M450.71 291.10l8.8 8.8M450.71 299.90l8.8 -8.8" stroke="#44e444" stroke-width="1.0"/><path d="M459.04 284.10l8.8 8.8M459.04 292.90l8.8 -8.8" stroke="#44e444" stroke-width="1.0"/><path d="M467.36 273.60l8.8 8.8M467.36 282.40l8.8 -8.8" stroke="#44e444" stroke-width="1.0"/><path d="M475.69 258.40l8.8 8.8M475.69 267.20l8.8 -8.8" stroke="#44e444" stroke-width="1.0"/><path d="M484.02 263.10l8.8 8.8M484.02 271.90l8.8 -8.8" stroke="#44e444" stroke-width="1.0"/><path d="M492.34 245.60l8.8 8.8M492.34 254.40l8.8 -8.8" stroke="#44e444" stroke-width="1.0"/><path d="M500.67 255.60l8.8 8.8M500.67 264.40l8.8 -8.8" stroke="#44e444" stroke-width="1.0"/><path d="M508.99 241.90l8.8 8.8M508.99 250.70l8.8 -8.8" stroke="#44e444" stroke-width="1.0"/><path d="M517.32 236.90l8.8 8.8M517.32 245.70l8.8 -8.8" stroke="#44e444" stroke-width="1.0"/><path d="M525.65 232.30l8.8 8.8M525.65 241.10l8.8 -8.8" stroke="#44e444" stroke-width="1.0"/></g>
<path d="M388.50 245.80L396.83 251.70L405.16 262.50L413.48 271.70L421.81 279.80L430.13 284.20L438.46 282.50L446.79 274.50L455.11 295.50L463.44 288.50L471.76 278.00L480.09 262.80L488.42 267.50L496.74 250.00L505.07 260.00L513.39 246.30L521.72 241.30L530.05 236.70" fill="none" stroke="#3cb03c" stroke-width="1.8" stroke-linejoin="round" stroke-dasharray="1.7 3.8"/>
<g><path d="M188.44 314.80L192.84 310.40L197.24 314.80L192.84 319.20Z" fill="none" stroke="#e040e0" stroke-width="0.9"/><path d="M196.35 315.30L200.75 310.90L205.15 315.30L200.75 319.70Z" fill="none" stroke="#e040e0" stroke-width="0.9"/><path d="M203.20 315.50L207.60 311.10L212.00 315.50L207.60 319.90Z" fill="none" stroke="#e040e0" stroke-width="0.9"/><path d="M209.25 315.80L213.65 311.40L218.05 315.80L213.65 320.20Z" fill="none" stroke="#e040e0" stroke-width="0.9"/><path d="M214.65 315.80L219.05 311.40L223.45 315.80L219.05 320.20Z" fill="none" stroke="#e040e0" stroke-width="0.9"/><path d="M219.54 315.00L223.94 310.60L228.34 315.00L223.94 319.40Z" fill="none" stroke="#e040e0" stroke-width="0.9"/><path d="M224.01 311.50L228.41 307.10L232.81 311.50L228.41 315.90Z" fill="none" stroke="#e040e0" stroke-width="0.9"/><path d="M228.31 310.60L232.71 306.20L237.11 310.60L232.71 315.00Z" fill="none" stroke="#e040e0" stroke-width="0.9"/><path d="M232.61 313.00L237.01 308.60L241.41 313.00L237.01 317.40Z" fill="none" stroke="#e040e0" stroke-width="0.9"/><path d="M236.91 309.50L241.31 305.10L245.71 309.50L241.31 313.90Z" fill="none" stroke="#e040e0" stroke-width="0.9"/><path d="M241.21 305.80L245.61 301.40L250.01 305.80L245.61 310.20Z" fill="none" stroke="#e040e0" stroke-width="0.9"/><path d="M245.52 301.60L249.92 297.20L254.32 301.60L249.92 306.00Z" fill="none" stroke="#e040e0" stroke-width="0.9"/><path d="M249.82 297.40L254.22 293.00L258.62 297.40L254.22 301.80Z" fill="none" stroke="#e040e0" stroke-width="0.9"/><path d="M254.12 294.00L258.52 289.60L262.92 294.00L258.52 298.40Z" fill="none" stroke="#e040e0" stroke-width="0.9"/><path d="M258.42 292.10L262.82 287.70L267.22 292.10L262.82 296.50Z" fill="none" stroke="#e040e0" stroke-width="0.9"/><path d="M262.72 294.50L267.12 290.10L271.52 294.50L267.12 298.90Z" fill="none" stroke="#e040e0" stroke-width="0.9"/><path d="M267.02 293.80L271.42 289.40L275.82 293.80L271.42 298.20Z" fill="none" stroke="#e040e0" stroke-width="0.9"/><path d="M271.32 289.00L275.72 284.60L280.12 289.00L275.72 293.40Z" fill="none" stroke="#e040e0" stroke-width="0.9"/><path d="M275.62 284.80L280.02 280.40L284.42 284.80L280.02 289.20Z" fill="none" stroke="#e040e0" stroke-width="0.9"/><path d="M279.93 280.80L284.33 276.40L288.73 280.80L284.33 285.20Z" fill="none" stroke="#e040e0" stroke-width="0.9"/><path d="M284.23 282.20L288.63 277.80L293.03 282.20L288.63 286.60Z" fill="none" stroke="#e040e0" stroke-width="0.9"/><path d="M288.53 278.50L292.93 274.10L297.33 278.50L292.93 282.90Z" fill="none" stroke="#e040e0" stroke-width="0.9"/><path d="M292.83 270.50L297.23 266.10L301.63 270.50L297.23 274.90Z" fill="none" stroke="#e040e0" stroke-width="0.9"/><path d="M297.13 271.30L301.53 266.90L305.93 271.30L301.53 275.70Z" fill="none" stroke="#e040e0" stroke-width="0.9"/><path d="M301.43 274.30L305.83 269.90L310.23 274.30L305.83 278.70Z" fill="none" stroke="#e040e0" stroke-width="0.9"/><path d="M305.73 271.00L310.13 266.60L314.53 271.00L310.13 275.40Z" fill="none" stroke="#e040e0" stroke-width="0.9"/><path d="M310.03 272.50L314.43 268.10L318.83 272.50L314.43 276.90Z" fill="none" stroke="#e040e0" stroke-width="0.9"/><path d="M314.34 270.00L318.74 265.60L323.14 270.00L318.74 274.40Z" fill="none" stroke="#e040e0" stroke-width="0.9"/><path d="M318.64 270.50L323.04 266.10L327.44 270.50L323.04 274.90Z" fill="none" stroke="#e040e0" stroke-width="0.9"/></g>
<path d="M192.84 314.80L200.75 315.30L207.60 315.50L213.65 315.80L219.05 315.80L223.94 315.00L228.41 311.50L232.71 310.60L237.01 313.00L241.31 309.50L245.61 305.80L249.92 301.60L254.22 297.40L258.52 294.00L262.82 292.10L267.12 294.50L271.42 293.80L275.72 289.00L280.02 284.80L284.33 280.80L288.63 282.20L292.93 278.50L297.23 270.50L301.53 271.30L305.83 274.30L310.13 271.00L314.43 272.50L318.74 270.00L323.04 270.50" fill="none" stroke="#e030e0" stroke-width="1.5" stroke-linejoin="round" />
<g><circle cx="100.89" cy="354.22" r="4.3" fill="none" stroke="#e06060" stroke-width="0.9"/><circle cx="136.46" cy="347.84" r="4.3" fill="none" stroke="#e06060" stroke-width="0.9"/><circle cx="157.27" cy="339.36" r="4.3" fill="none" stroke="#e06060" stroke-width="0.9"/><circle cx="172.03" cy="317.88" r="4.3" fill="none" stroke="#e06060" stroke-width="0.9"/><circle cx="183.48" cy="316.17" r="4.3" fill="none" stroke="#e06060" stroke-width="0.9"/></g>
<path d="M100.89 354.22L136.46 347.84L157.27 339.36L172.03 317.88L183.48 316.17" fill="none" stroke="#dc1c24" stroke-width="1.7" stroke-linejoin="round" />
<g><path d="M35.65 349.60L39.50 342.90L43.35 349.60Z" fill="none" stroke="#4848d8" stroke-width="0.9" stroke-linejoin="miter"/><path d="M71.15 349.60L75.00 342.90L78.85 349.60Z" fill="none" stroke="#4848d8" stroke-width="0.9" stroke-linejoin="miter"/><path d="M107.15 335.40L111.00 328.70L114.85 335.40Z" fill="none" stroke="#4848d8" stroke-width="0.9" stroke-linejoin="miter"/><path d="M127.25 284.10L131.10 277.40L134.95 284.10Z" fill="none" stroke="#4848d8" stroke-width="0.9" stroke-linejoin="miter"/><path d="M142.25 257.00L146.10 250.30L149.95 257.00Z" fill="none" stroke="#4848d8" stroke-width="0.9" stroke-linejoin="miter"/><path d="M153.25 265.00L157.10 258.30L160.95 265.00Z" fill="none" stroke="#4848d8" stroke-width="0.9" stroke-linejoin="miter"/><path d="M162.85 265.00L166.70 258.30L170.55 265.00Z" fill="none" stroke="#4848d8" stroke-width="0.9" stroke-linejoin="miter"/><path d="M170.65 284.60L174.50 277.90L178.35 284.60Z" fill="none" stroke="#4848d8" stroke-width="0.9" stroke-linejoin="miter"/><path d="M177.35 299.70L181.20 293.00L185.05 299.70Z" fill="none" stroke="#4848d8" stroke-width="0.9" stroke-linejoin="miter"/><path d="M183.35 314.70L187.20 308.00L191.05 314.70Z" fill="none" stroke="#4848d8" stroke-width="0.9" stroke-linejoin="miter"/><path d="M188.75 314.60L192.60 307.90L196.45 314.60Z" fill="none" stroke="#4848d8" stroke-width="0.9" stroke-linejoin="miter"/><path d="M193.95 314.60L197.80 307.90L201.65 314.60Z" fill="none" stroke="#4848d8" stroke-width="0.9" stroke-linejoin="miter"/><path d="M199.45 306.60L203.30 299.90L207.15 306.60Z" fill="none" stroke="#4848d8" stroke-width="0.9" stroke-linejoin="miter"/><path d="M203.65 302.60L207.50 295.90L211.35 302.60Z" fill="none" stroke="#4848d8" stroke-width="0.9" stroke-linejoin="miter"/><path d="M206.95 293.90L210.80 287.20L214.65 293.90Z" fill="none" stroke="#4848d8" stroke-width="0.9" stroke-linejoin="miter"/><path d="M209.45 293.60L213.30 286.90L217.15 293.60Z" fill="none" stroke="#4848d8" stroke-width="0.9" stroke-linejoin="miter"/><path d="M213.15 293.60L217.00 286.90L220.85 293.60Z" fill="none" stroke="#4848d8" stroke-width="0.9" stroke-linejoin="miter"/><path d="M216.95 302.60L220.80 295.90L224.65 302.60Z" fill="none" stroke="#4848d8" stroke-width="0.9" stroke-linejoin="miter"/><path d="M219.85 302.60L223.70 295.90L227.55 302.60Z" fill="none" stroke="#4848d8" stroke-width="0.9" stroke-linejoin="miter"/><path d="M222.85 305.10L226.70 298.40L230.55 305.10Z" fill="none" stroke="#4848d8" stroke-width="0.9" stroke-linejoin="miter"/><path d="M226.15 310.90L230.00 304.20L233.85 310.90Z" fill="none" stroke="#4848d8" stroke-width="0.9" stroke-linejoin="miter"/><path d="M229.45 307.60L233.30 300.90L237.15 307.60Z" fill="none" stroke="#4848d8" stroke-width="0.9" stroke-linejoin="miter"/><path d="M233.65 303.40L237.50 296.70L241.35 303.40Z" fill="none" stroke="#4848d8" stroke-width="0.9" stroke-linejoin="miter"/><path d="M241.95 295.90L245.80 289.20L249.65 295.90Z" fill="none" stroke="#4848d8" stroke-width="0.9" stroke-linejoin="miter"/><path d="M249.45 293.40L253.30 286.70L257.15 293.40Z" fill="none" stroke="#4848d8" stroke-width="0.9" stroke-linejoin="miter"/><path d="M258.45 288.40L262.30 281.70L266.15 288.40Z" fill="none" stroke="#4848d8" stroke-width="0.9" stroke-linejoin="miter"/><path d="M266.65 294.30L270.50 287.60L274.35 294.30Z" fill="none" stroke="#4848d8" stroke-width="0.9" stroke-linejoin="miter"/><path d="M274.85 282.60L278.70 275.90L282.55 282.60Z" fill="none" stroke="#4848d8" stroke-width="0.9" stroke-linejoin="miter"/><path d="M283.65 266.70L287.50 260.00L291.35 266.70Z" fill="none" stroke="#4848d8" stroke-width="0.9" stroke-linejoin="miter"/><path d="M292.35 262.80L296.20 256.10L300.05 262.80Z" fill="none" stroke="#4848d8" stroke-width="0.9" stroke-linejoin="miter"/><path d="M300.45 265.80L304.30 259.10L308.15 265.80Z" fill="none" stroke="#4848d8" stroke-width="0.9" stroke-linejoin="miter"/><path d="M309.35 246.40L313.20 239.70L317.05 246.40Z" fill="none" stroke="#4848d8" stroke-width="0.9" stroke-linejoin="miter"/><path d="M317.25 237.10L321.10 230.40L324.95 237.10Z" fill="none" stroke="#4848d8" stroke-width="0.9" stroke-linejoin="miter"/><path d="M325.65 241.80L329.50 235.10L333.35 241.80Z" fill="none" stroke="#4848d8" stroke-width="0.9" stroke-linejoin="miter"/><path d="M334.35 245.30L338.20 238.60L342.05 245.30Z" fill="none" stroke="#4848d8" stroke-width="0.9" stroke-linejoin="miter"/><path d="M342.45 240.10L346.30 233.40L350.15 240.10Z" fill="none" stroke="#4848d8" stroke-width="0.9" stroke-linejoin="miter"/><path d="M350.65 230.10L354.50 223.40L358.35 230.10Z" fill="none" stroke="#4848d8" stroke-width="0.9" stroke-linejoin="miter"/><path d="M358.85 254.60L362.70 247.90L366.55 254.60Z" fill="none" stroke="#4848d8" stroke-width="0.9" stroke-linejoin="miter"/><path d="M366.95 254.60L370.80 247.90L374.65 254.60Z" fill="none" stroke="#4848d8" stroke-width="0.9" stroke-linejoin="miter"/><path d="M375.65 247.60L379.50 240.90L383.35 247.60Z" fill="none" stroke="#4848d8" stroke-width="0.9" stroke-linejoin="miter"/></g>
<path d="M39.50 347.00L75.00 347.00L111.00 332.80L131.10 281.50L146.10 254.40L157.10 262.40L166.70 262.40L174.50 282.00L181.20 297.10L187.20 312.10L192.60 312.00L197.80 312.00L203.30 304.00L207.50 300.00L210.80 291.30L213.30 291.00L217.00 291.00L220.80 300.00L223.70 300.00L226.70 302.50L230.00 308.30L233.30 305.00L237.50 300.80L245.80 293.30L253.30 290.80L262.30 285.80L270.50 291.70L278.70 280.00L287.50 264.10L296.20 260.20L304.30 263.20L313.20 243.80L321.10 234.50L329.50 239.20L338.20 242.70L346.30 237.50L354.50 227.50L362.70 252.00L370.80 252.00L379.50 245.00" fill="none" stroke="#2222cc" stroke-width="1.75" stroke-linejoin="round" />
<g><path d="M430.41 526.10l8.8 8.8M430.41 534.90l8.8 -8.8" stroke="#44e444" stroke-width="1.0"/><path d="M439.76 527.60l8.8 8.8M439.76 536.40l8.8 -8.8" stroke="#44e444" stroke-width="1.0"/><path d="M449.11 530.60l8.8 8.8M449.11 539.40l8.8 -8.8" stroke="#44e444" stroke-width="1.0"/><path d="M458.46 535.10l8.8 8.8M458.46 543.90l8.8 -8.8" stroke="#44e444" stroke-width="1.0"/><path d="M467.81 548.00l8.8 8.8M467.81 556.80l8.8 -8.8" stroke="#44e444" stroke-width="1.0"/><path d="M477.17 545.60l8.8 8.8M477.17 554.40l8.8 -8.8" stroke="#44e444" stroke-width="1.0"/><path d="M486.52 554.60l8.8 8.8M486.52 563.40l8.8 -8.8" stroke="#44e444" stroke-width="1.0"/><path d="M495.87 531.20l8.8 8.8M495.87 540.00l8.8 -8.8" stroke="#44e444" stroke-width="1.0"/><path d="M505.22 538.10l8.8 8.8M505.22 546.90l8.8 -8.8" stroke="#44e444" stroke-width="1.0"/><path d="M514.57 511.10l8.8 8.8M514.57 519.90l8.8 -8.8" stroke="#44e444" stroke-width="1.0"/><path d="M523.93 447.20l8.8 8.8M523.93 456.00l8.8 -8.8" stroke="#44e444" stroke-width="1.0"/><path d="M533.28 430.10l8.8 8.8M533.28 438.90l8.8 -8.8" stroke="#44e444" stroke-width="1.0"/><path d="M542.63 443.00l8.8 8.8M542.63 451.80l8.8 -8.8" stroke="#44e444" stroke-width="1.0"/><path d="M551.98 412.10l8.8 8.8M551.98 420.90l8.8 -8.8" stroke="#44e444" stroke-width="1.0"/><path d="M561.33 431.60l8.8 8.8M561.33 440.40l8.8 -8.8" stroke="#44e444" stroke-width="1.0"/><path d="M570.69 431.00l8.8 8.8M570.69 439.80l8.8 -8.8" stroke="#44e444" stroke-width="1.0"/><path d="M580.04 443.60l8.8 8.8M580.04 452.40l8.8 -8.8" stroke="#44e444" stroke-width="1.0"/><path d="M589.39 461.60l8.8 8.8M589.39 470.40l8.8 -8.8" stroke="#44e444" stroke-width="1.0"/></g>
<path d="M434.81 530.50L444.16 532.00L453.51 535.00L462.86 539.50L472.21 552.40L481.57 550.00L490.92 559.00L500.27 535.60L509.62 542.50L518.97 515.50L528.33 451.60L537.68 434.50L547.03 447.40L556.38 416.50L565.73 436.00L575.09 435.40L584.44 448.00L593.79 466.00" fill="none" stroke="#3cb03c" stroke-width="1.8" stroke-linejoin="round" stroke-dasharray="1.7 3.8"/>
<g><path d="M210.63 507.00L215.03 502.60L219.43 507.00L215.03 511.40Z" fill="none" stroke="#e040e0" stroke-width="0.9"/><path d="M219.52 508.01L223.92 503.61L228.32 508.01L223.92 512.41Z" fill="none" stroke="#e040e0" stroke-width="0.9"/><path d="M227.21 512.50L231.61 508.10L236.01 512.50L231.61 516.90Z" fill="none" stroke="#e040e0" stroke-width="0.9"/><path d="M234.00 514.50L238.40 510.10L242.80 514.50L238.40 518.90Z" fill="none" stroke="#e040e0" stroke-width="0.9"/><path d="M240.08 512.51L244.48 508.11L248.88 512.51L244.48 516.91Z" fill="none" stroke="#e040e0" stroke-width="0.9"/><path d="M245.57 507.53L249.97 503.13L254.37 507.53L249.97 511.93Z" fill="none" stroke="#e040e0" stroke-width="0.9"/><path d="M250.59 511.49L254.99 507.09L259.39 511.49L254.99 515.89Z" fill="none" stroke="#e040e0" stroke-width="0.9"/><path d="M255.42 509.99L259.82 505.59L264.22 509.99L259.82 514.39Z" fill="none" stroke="#e040e0" stroke-width="0.9"/><path d="M260.25 506.94L264.65 502.54L269.05 506.94L264.65 511.34Z" fill="none" stroke="#e040e0" stroke-width="0.9"/><path d="M265.08 500.53L269.48 496.13L273.88 500.53L269.48 504.93Z" fill="none" stroke="#e040e0" stroke-width="0.9"/><path d="M269.91 501.61L274.31 497.21L278.71 501.61L274.31 506.01Z" fill="none" stroke="#e040e0" stroke-width="0.9"/><path d="M274.74 504.03L279.14 499.63L283.54 504.03L279.14 508.43Z" fill="none" stroke="#e040e0" stroke-width="0.9"/><path d="M279.57 507.48L283.97 503.08L288.37 507.48L283.97 511.88Z" fill="none" stroke="#e040e0" stroke-width="0.9"/><path d="M284.40 512.00L288.80 507.60L293.20 512.00L288.80 516.40Z" fill="none" stroke="#e040e0" stroke-width="0.9"/><path d="M289.24 515.00L293.64 510.60L298.04 515.00L293.64 519.40Z" fill="none" stroke="#e040e0" stroke-width="0.9"/><path d="M294.07 514.50L298.47 510.10L302.87 514.50L298.47 518.90Z" fill="none" stroke="#e040e0" stroke-width="0.9"/><path d="M298.90 510.50L303.30 506.10L307.70 510.50L303.30 514.90Z" fill="none" stroke="#e040e0" stroke-width="0.9"/><path d="M303.73 515.26L308.13 510.86L312.53 515.26L308.13 519.66Z" fill="none" stroke="#e040e0" stroke-width="0.9"/><path d="M308.56 508.06L312.96 503.66L317.36 508.06L312.96 512.46Z" fill="none" stroke="#e040e0" stroke-width="0.9"/><path d="M313.39 506.30L317.79 501.90L322.19 506.30L317.79 510.70Z" fill="none" stroke="#e040e0" stroke-width="0.9"/><path d="M318.22 504.18L322.62 499.78L327.02 504.18L322.62 508.58Z" fill="none" stroke="#e040e0" stroke-width="0.9"/><path d="M323.05 501.03L327.45 496.63L331.85 501.03L327.45 505.43Z" fill="none" stroke="#e040e0" stroke-width="0.9"/><path d="M327.89 497.51L332.29 493.11L336.69 497.51L332.29 501.91Z" fill="none" stroke="#e040e0" stroke-width="0.9"/><path d="M332.72 501.54L337.12 497.14L341.52 501.54L337.12 505.94Z" fill="none" stroke="#e040e0" stroke-width="0.9"/><path d="M337.55 512.08L341.95 507.68L346.35 512.08L341.95 516.48Z" fill="none" stroke="#e040e0" stroke-width="0.9"/><path d="M342.38 520.46L346.78 516.06L351.18 520.46L346.78 524.86Z" fill="none" stroke="#e040e0" stroke-width="0.9"/><path d="M347.21 512.49L351.61 508.09L356.01 512.49L351.61 516.89Z" fill="none" stroke="#e040e0" stroke-width="0.9"/><path d="M352.04 508.97L356.44 504.57L360.84 508.97L356.44 513.37Z" fill="none" stroke="#e040e0" stroke-width="0.9"/></g>
<path d="M215.03 507.00L223.92 508.01L231.61 512.50L238.40 514.50L244.48 512.51L249.97 507.53L254.99 511.49L259.82 509.99L264.65 506.94L269.48 500.53L274.31 501.61L279.14 504.03L283.97 507.48L288.80 512.00L293.64 515.00L298.47 514.50L303.30 510.50L308.13 515.26L312.96 508.06L317.79 506.30L322.62 504.18L327.45 501.03L332.29 497.51L337.12 501.54L341.95 512.08L346.78 520.46L351.61 512.49L356.44 508.97" fill="none" stroke="#e030e0" stroke-width="1.5" stroke-linejoin="round" />
<g><circle cx="111.75" cy="508.80" r="4.3" fill="none" stroke="#e06060" stroke-width="0.9"/><circle cx="151.70" cy="508.80" r="4.3" fill="none" stroke="#e06060" stroke-width="0.9"/><circle cx="175.08" cy="508.67" r="4.3" fill="none" stroke="#e06060" stroke-width="0.9"/><circle cx="191.66" cy="503.50" r="4.3" fill="none" stroke="#e06060" stroke-width="0.9"/><circle cx="204.52" cy="513.24" r="4.3" fill="none" stroke="#e06060" stroke-width="0.9"/></g>
<path d="M111.75 508.80L151.70 508.80L175.08 508.67L191.66 503.50L204.52 513.24" fill="none" stroke="#dc1c24" stroke-width="1.7" stroke-linejoin="round" />
<g><path d="M38.85 508.50L42.70 501.80L46.55 508.50Z" fill="none" stroke="#4848d8" stroke-width="0.9" stroke-linejoin="miter"/><path d="M78.25 508.50L82.10 501.80L85.95 508.50Z" fill="none" stroke="#4848d8" stroke-width="0.9" stroke-linejoin="miter"/><path d="M118.25 508.50L122.10 501.80L125.95 508.50Z" fill="none" stroke="#4848d8" stroke-width="0.9" stroke-linejoin="miter"/><path d="M141.45 508.50L145.30 501.80L149.15 508.50Z" fill="none" stroke="#4848d8" stroke-width="0.9" stroke-linejoin="miter"/><path d="M158.05 513.30L161.90 506.60L165.75 513.30Z" fill="none" stroke="#4848d8" stroke-width="0.9" stroke-linejoin="miter"/><path d="M170.85 508.50L174.70 501.80L178.55 508.50Z" fill="none" stroke="#4848d8" stroke-width="0.9" stroke-linejoin="miter"/><path d="M181.15 501.20L185.00 494.50L188.85 501.20Z" fill="none" stroke="#4848d8" stroke-width="0.9" stroke-linejoin="miter"/><path d="M190.15 499.60L194.00 492.90L197.85 499.60Z" fill="none" stroke="#4848d8" stroke-width="0.9" stroke-linejoin="miter"/><path d="M198.15 499.60L202.00 492.90L205.85 499.60Z" fill="none" stroke="#4848d8" stroke-width="0.9" stroke-linejoin="miter"/><path d="M205.15 499.60L209.00 492.90L212.85 499.60Z" fill="none" stroke="#4848d8" stroke-width="0.9" stroke-linejoin="miter"/><path d="M211.15 499.60L215.00 492.90L218.85 499.60Z" fill="none" stroke="#4848d8" stroke-width="0.9" stroke-linejoin="miter"/><path d="M217.15 501.60L221.00 494.90L224.85 501.60Z" fill="none" stroke="#4848d8" stroke-width="0.9" stroke-linejoin="miter"/><path d="M222.15 508.20L226.00 501.50L229.85 508.20Z" fill="none" stroke="#4848d8" stroke-width="0.9" stroke-linejoin="miter"/><path d="M226.15 508.60L230.00 501.90L233.85 508.60Z" fill="none" stroke="#4848d8" stroke-width="0.9" stroke-linejoin="miter"/><path d="M231.15 508.60L235.00 501.90L238.85 508.60Z" fill="none" stroke="#4848d8" stroke-width="0.9" stroke-linejoin="miter"/><path d="M235.15 508.60L239.00 501.90L242.85 508.60Z" fill="none" stroke="#4848d8" stroke-width="0.9" stroke-linejoin="miter"/><path d="M239.15 504.60L243.00 497.90L246.85 504.60Z" fill="none" stroke="#4848d8" stroke-width="0.9" stroke-linejoin="miter"/><path d="M243.15 503.60L247.00 496.90L250.85 503.60Z" fill="none" stroke="#4848d8" stroke-width="0.9" stroke-linejoin="miter"/><path d="M247.15 503.60L251.00 496.90L254.85 503.60Z" fill="none" stroke="#4848d8" stroke-width="0.9" stroke-linejoin="miter"/><path d="M251.75 499.60L255.60 492.90L259.45 499.60Z" fill="none" stroke="#4848d8" stroke-width="0.9" stroke-linejoin="miter"/><path d="M256.15 511.60L260.00 504.90L263.85 511.60Z" fill="none" stroke="#4848d8" stroke-width="0.9" stroke-linejoin="miter"/><path d="M261.15 524.20L265.00 517.50L268.85 524.20Z" fill="none" stroke="#4848d8" stroke-width="0.9" stroke-linejoin="miter"/><path d="M271.15 517.60L275.00 510.90L278.85 517.60Z" fill="none" stroke="#4848d8" stroke-width="0.9" stroke-linejoin="miter"/><path d="M280.55 537.00L284.40 530.30L288.25 537.00Z" fill="none" stroke="#4848d8" stroke-width="0.9" stroke-linejoin="miter"/><path d="M289.15 523.60L293.00 516.90L296.85 523.60Z" fill="none" stroke="#4848d8" stroke-width="0.9" stroke-linejoin="miter"/><path d="M298.65 532.60L302.50 525.90L306.35 532.60Z" fill="none" stroke="#4848d8" stroke-width="0.9" stroke-linejoin="miter"/><path d="M308.15 553.90L312.00 547.20L315.85 553.90Z" fill="none" stroke="#4848d8" stroke-width="0.9" stroke-linejoin="miter"/><path d="M317.45 542.10L321.30 535.40L325.15 542.10Z" fill="none" stroke="#4848d8" stroke-width="0.9" stroke-linejoin="miter"/><path d="M326.65 552.10L330.50 545.40L334.35 552.10Z" fill="none" stroke="#4848d8" stroke-width="0.9" stroke-linejoin="miter"/><path d="M336.15 552.60L340.00 545.90L343.85 552.60Z" fill="none" stroke="#4848d8" stroke-width="0.9" stroke-linejoin="miter"/><path d="M345.65 545.10L349.50 538.40L353.35 545.10Z" fill="none" stroke="#4848d8" stroke-width="0.9" stroke-linejoin="miter"/><path d="M354.95 538.10L358.80 531.40L362.65 538.10Z" fill="none" stroke="#4848d8" stroke-width="0.9" stroke-linejoin="miter"/><path d="M364.15 550.60L368.00 543.90L371.85 550.60Z" fill="none" stroke="#4848d8" stroke-width="0.9" stroke-linejoin="miter"/><path d="M373.65 532.60L377.50 525.90L381.35 532.60Z" fill="none" stroke="#4848d8" stroke-width="0.9" stroke-linejoin="miter"/><path d="M383.65 518.90L387.50 512.20L391.35 518.90Z" fill="none" stroke="#4848d8" stroke-width="0.9" stroke-linejoin="miter"/><path d="M392.45 510.10L396.30 503.40L400.15 510.10Z" fill="none" stroke="#4848d8" stroke-width="0.9" stroke-linejoin="miter"/><path d="M401.15 538.90L405.00 532.20L408.85 538.90Z" fill="none" stroke="#4848d8" stroke-width="0.9" stroke-linejoin="miter"/><path d="M410.65 532.60L414.50 525.90L418.35 532.60Z" fill="none" stroke="#4848d8" stroke-width="0.9" stroke-linejoin="miter"/><path d="M419.95 538.90L423.80 532.20L427.65 538.90Z" fill="none" stroke="#4848d8" stroke-width="0.9" stroke-linejoin="miter"/></g>
<path d="M42.70 505.90L82.10 505.90L122.10 505.90L145.30 505.90L161.90 510.70L174.70 505.90L185.00 498.60L194.00 497.00L202.00 497.00L209.00 497.00L215.00 497.00L221.00 499.00L226.00 505.60L230.00 506.00L235.00 506.00L239.00 506.00L243.00 502.00L247.00 501.00L251.00 501.00L255.60 497.00L260.00 509.00L265.00 521.60L275.00 515.00L284.40 534.40L293.00 521.00L302.50 530.00L312.00 551.30L321.30 539.50L330.50 549.50L340.00 550.00L349.50 542.50L358.80 535.50L368.00 548.00L377.50 530.00L387.50 516.30L396.30 507.50L405.00 536.30L414.50 530.00L423.80 536.30" fill="none" stroke="#2222cc" stroke-width="1.75" stroke-linejoin="round" />
<circle cx="77.50" cy="82.00" r="4.3" fill="none" stroke="#e06060" stroke-width="0.9"/>
<path d="M93 82.00H106.5" stroke="#dc1c24" stroke-width="2" />
<text x="112.8" y="85.40" class="t" letter-spacing="0.15">J  (HST)</text>
<path d="M73.10 95.45L77.50 91.05L81.90 95.45L77.50 99.85Z" fill="none" stroke="#e040e0" stroke-width="0.9"/>
<path d="M93 95.45H106.5" stroke="#e030e0" stroke-width="2" />
<text x="112.8" y="98.85" class="t" letter-spacing="0.15">J+K  (HST)</text>
<path d="M73.20 108.90h8.6M77.50 104.60v8.6" stroke="#686868" stroke-width="0.95"/>
<path d="M93 108.90H106.5" stroke="#000" stroke-width="2" stroke-dasharray="5.3 5.4"/>
<text x="112.8" y="112.30" class="t" letter-spacing="0.15">K  (HST+KPNO)</text>
<path d="M73.10 117.95l8.8 8.8M73.10 126.75l8.8 -8.8" stroke="#44e444" stroke-width="1.0"/>
<path d="M93 122.35H106.5" stroke="#3cb03c" stroke-width="2" stroke-dasharray="1.7 3.8"/>
<text x="112.8" y="125.75" class="t" letter-spacing="0.15">R  (MDM)</text>
<path d="M73.65 138.40L77.50 131.70L81.35 138.40Z" fill="none" stroke="#4848d8" stroke-width="0.9" stroke-linejoin="miter"/>
<path d="M93 135.80H106.5" stroke="#2222cc" stroke-width="2" />
<text x="112.8" y="139.20" class="t" letter-spacing="0.15">V  (HST)</text>
</svg>
</body></html>
